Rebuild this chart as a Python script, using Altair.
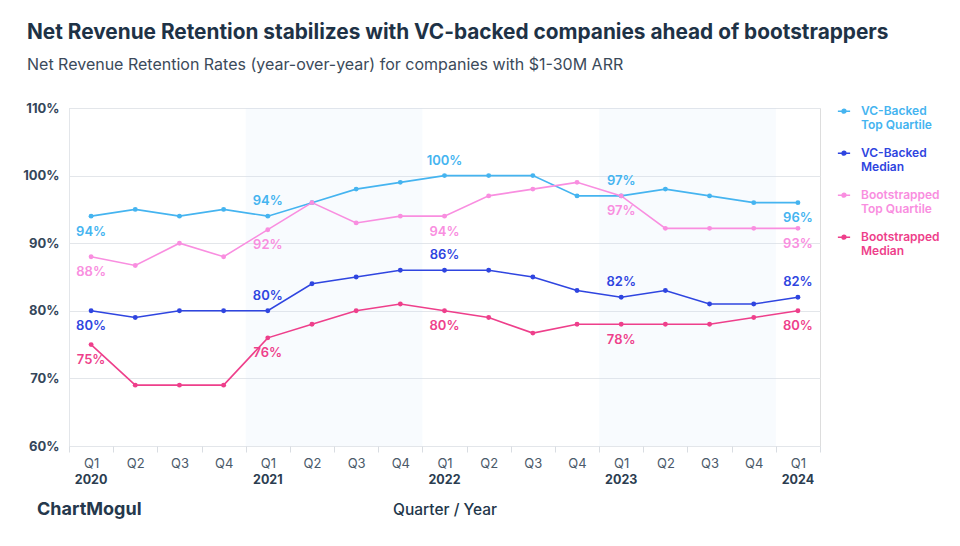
import altair as alt
import pandas as pd

# ---------------- data ----------------
quarters = ["Q1", "Q2", "Q3", "Q4", "Q1", "Q2", "Q3", "Q4", "Q1", "Q2", "Q3", "Q4",
            "Q1", "Q2", "Q3", "Q4", "Q1"]
years = [2020, 2020, 2020, 2020, 2021, 2021, 2021, 2021, 2022, 2022, 2022, 2022,
         2023, 2023, 2023, 2023, 2024]

series_names = ["VC-Backed Top Quartile", "VC-Backed Median",
                "Bootstrapped Top Quartile", "Bootstrapped Median"]
series_colors = ["#45b4f0", "#2f45e0", "#f98ee0", "#ee3f8b"]

vc_top = [94, 95, 94, 95, 94, 96, 98, 99, 100, 100, 100, 97, 97, 98, 97, 96, 96]
vc_median = [80, 79, 80, 80, 80, 84, 85, 86, 86, 86, 85, 83, 82, 83, 81, 81, 82]
boot_top = [88, 86.7, 90, 88, 92, 96, 93, 94, 94, 97, 98, 99, 97, 92.2, 92.2, 92.2, 92.2]
boot_median = [75, 69, 69, 69, 76, 78, 80, 81, 80, 79, 76.7, 78, 78, 78, 78, 79, 80]

# value labels shown at each Q1
label_index = [0, 4, 8, 12, 16]
vc_top_labels = ["94%", "94%", "100%", "97%", "96%"]
vc_top_pos = ["below", "above", "above", "above", "below"]
vc_median_labels = ["80%", "80%", "86%", "82%", "82%"]
vc_median_pos = ["below", "above", "above", "above", "above"]
boot_top_labels = ["88%", "92%", "94%", "97%", "93%"]
boot_top_pos = ["below", "below", "below", "below", "below"]
boot_median_labels = ["75%", "76%", "80%", "78%", "80%"]
boot_median_pos = ["below", "below", "below", "below", "below"]

shaded_years = [2021, 2023]

# ---------------- tables ----------------
keys = [f"{y} {q}" for y, q in zip(years, quarters)]
all_values = [vc_top, vc_median, boot_top, boot_median]
all_labels = [vc_top_labels, vc_median_labels, boot_top_labels, boot_median_labels]
all_pos = [vc_top_pos, vc_median_pos, boot_top_pos, boot_median_pos]

rows = []
for s, vals in zip(series_names, all_values):
    for k, v in zip(keys, vals):
        rows.append({"key": k, "series": s, "value": v})
df = pd.DataFrame(rows)

lab_rows = []
for s, c, vals, labs, poss in zip(series_names, series_colors, all_values, all_labels, all_pos):
    for i, lab, pos in zip(label_index, labs, poss):
        lab_rows.append({"key": keys[i], "series": s, "value": vals[i],
                         "label": lab, "pos": pos, "hex": c})
df_lab = pd.DataFrame(lab_rows)

df_year = pd.DataFrame([{"key": k, "year": str(y)} for k, y, q in zip(keys, years, quarters) if q == "Q1"])

df_shade = pd.DataFrame([{"start": f"{y} Q1", "end": f"{y} Q4"} for y in shaded_years])

df_brand = pd.DataFrame([{"brand": "ChartMogul"}])

# ---------------- scales / axes ----------------
FONT = "Inter"
x_scale = alt.Scale(domain=keys, paddingInner=0, paddingOuter=0)
y_scale = alt.Scale(domain=[60, 110])

x_axis = alt.Axis(
    labelExpr="split(datum.label, ' ')[1]", labelAngle=0, labelFontSize=13,
    labelColor="#4b5a6a", labelFont=FONT, labelPadding=5,
    tickBand="extent", tickSize=6, tickColor="#d9dde2", domain=False, grid=False,
    title="Quarter / Year", titleFontSize=15.5, titleFontWeight=500, titleFont=FONT,
    titleColor="#22364a", titlePadding=32,
)
y_axis = alt.Axis(
    values=[60, 70, 80, 90, 100, 110], labelExpr="datum.value + '%'",
    labelFontSize=13, labelFontWeight="bold", labelColor="#34465a", labelFont=FONT,
    labelPadding=10, ticks=False, grid=True, gridColor="#e3e6ea", domainColor="#e3e6ea",
    title=None,
)

X = lambda f: alt.X(f, type="nominal", scale=x_scale, axis=x_axis)
Y = lambda f: alt.Y(f, type="quantitative", scale=y_scale, axis=y_axis)

shade = alt.Chart(df_shade).mark_rect(color="#d0e6f5", opacity=0.15).encode(
    x=alt.X("start", type="nominal", scale=x_scale, axis=x_axis, bandPosition=0),
    x2=alt.X2("end", bandPosition=1),
)

legend = alt.Legend(
    orient="none", legendX=768, legendY=-9, title=None, direction="vertical",
    symbolType="M-1,0.85L1,0.85M-0.3,0.85a0.3,0.3 0 1,0 0.6,0a0.3,0.3 0 1,0 -0.6,0",
    symbolSize=150, symbolStrokeWidth=1.6,
    labelFont=FONT, labelFontSize=12, labelFontWeight=600, labelLimit=200,
    labelExpr="[slice(datum.label, 0, indexof(datum.label, ' ')), slice(datum.label, indexof(datum.label, ' ') + 1)]",
    labelColor={"expr": "scale('color', datum.value)"},
    labelOffset=10, rowPadding=10, labelBaseline="top",
)

lines = alt.Chart(df).mark_line(
    strokeWidth=1.6, point=alt.OverlayMarkDef(filled=True, size=24)
).encode(
    x=X("key"), y=Y("value"),
    color=alt.Color("series:N", scale=alt.Scale(domain=series_names, range=series_colors),
                    legend=legend, sort=series_names),
    detail="series:N",
)

lab_base = alt.Chart(df_lab).encode(
    x=X("key"), y=Y("value"), text="label:N",
    color=alt.Color("hex:N", scale=None),
)
above = lab_base.transform_filter("datum.pos == 'above'").mark_text(
    dy=-15, fontSize=13, fontWeight=600, font=FONT)
below = lab_base.transform_filter("datum.pos == 'below'").mark_text(
    dy=15.5, fontSize=13, fontWeight=600, font=FONT)

year_text = alt.Chart(df_year).mark_text(
    fontSize=12.5, fontWeight="bold", font=FONT, color="#2b3d50", baseline="middle"
).encode(x=X("key"), y=alt.value(372), text="year:N")

brand = alt.Chart(df_brand).mark_text(
    fontSize=18, fontWeight="bold", font=FONT, color="#25384c", align="left",
    baseline="middle"
).encode(x=alt.value(-32), y=alt.value(402), text="brand:N")

chart = alt.layer(shade, lines, above, below, year_text, brand).properties(
    width=751, height=338,
    autosize=alt.AutoSizeParams(type="none"),
    padding={"left": 69, "top": 108, "right": 140, "bottom": 100},
    title=alt.TitleParams(
        text="Net Revenue Retention stabilizes with VC-backed companies ahead of bootstrappers",
        subtitle="Net Revenue Retention Rates (year-over-year) for companies with $1-30M ARR",
        anchor="start", frame="group", dx=-42, offset=25,
        font=FONT, fontSize=20.8, fontWeight="bold", color="#1e3246",
        subtitleFont=FONT, subtitleFontSize=16, subtitleColor="#3b4a5a",
        subtitlePadding=13,
    ),
).configure_view(fill="#f8fafc", stroke=None).configure(background="white")

chart.save("out.html", embed_options={"renderer": "svg", "actions": False})
